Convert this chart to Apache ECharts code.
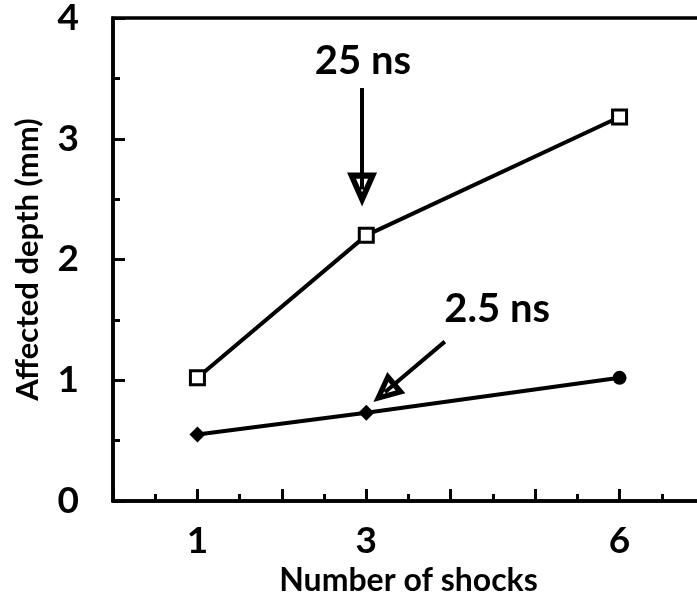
<!DOCTYPE html>
<html>
<head>
<meta charset="utf-8">
<script src="https://cdn.jsdelivr.net/npm/echarts@6/dist/echarts.min.js"></script>
<style>
  html, body { margin: 0; padding: 0; background: #fff; }
  #chart { width: 697px; height: 600px; }
</style>
</head>
<body>
<div id="chart"></div>
<script>
// Number of shocks on the x axis
const shocks = [1, 3, 6];
// Affected depth (mm) for each pulse duration
const depth25ns = [1.02, 2.2, 3.18];
const depth2_5ns = [0.55, 0.73, 1.02];
// Tick labels shown on the axes
const xTickLabels = [1, 3, 6];
const yTickLabels = [0, 1, 2, 3, 4];

const FONT = 'Lato';
// Open (outlined) arrow head, pointing up; ECharts rotates it along the line
const OPEN_HEAD = 'path://M10,0L20,24L0,24Z M10,10L6,19.5L14,19.5Z';

const chart = echarts.init(document.getElementById('chart'));
const pairs = (xs, ys) => xs.map((x, i) => [x, ys[i]]);

chart.setOption({
  animation: false,
  backgroundColor: '#fff',
  grid: {
    left: 113, top: 18, width: 591, height: 483,
    outerBoundsMode: 'none', containLabel: false,
    show: true, borderColor: '#000', borderWidth: 3.5
  },
  xAxis: {
    type: 'value', min: 0, max: 7, interval: 1,
    name: 'Number of shocks', nameLocation: 'middle', nameGap: 62,
    nameTextStyle: { fontFamily: FONT, fontWeight: 'bold', fontSize: 32, color: '#000' },
    axisLine: { lineStyle: { color: '#000', width: 3.5 } },
    axisTick: { inside: true, length: 12, lineStyle: { color: '#000', width: 3 } },
    minorTick: { show: true, splitNumber: 2, length: 7, lineStyle: { color: '#000', width: 3 } },
    splitLine: { show: false },
    axisLabel: {
      margin: 22, fontFamily: FONT, fontWeight: 'bold', fontSize: 37, color: '#000',
      formatter: v => (xTickLabels.includes(v) ? String(v) : '')
    }
  },
  yAxis: {
    type: 'value', min: 0, max: 4, interval: 1,
    name: 'Affected depth (mm)', nameLocation: 'middle', nameGap: 70, nameRotate: 90,
    nameTextStyle: { fontFamily: FONT, fontWeight: 'bold', fontSize: 31, color: '#000' },
    axisLine: { lineStyle: { color: '#000', width: 3.5 } },
    axisTick: { inside: true, length: 12, lineStyle: { color: '#000', width: 3 } },
    minorTick: { show: true, splitNumber: 2, length: 7, lineStyle: { color: '#000', width: 3 } },
    splitLine: { show: false },
    axisLabel: {
      margin: 34, fontFamily: FONT, fontWeight: 'bold', fontSize: 37, color: '#000',
      formatter: v => (yTickLabels.includes(v) ? String(v) : '')
    }
  },
  series: [
    {
      name: '25 ns', type: 'line',
      data: pairs(shocks, depth25ns),
      symbol: 'rect', symbolSize: 14,
      lineStyle: { color: '#000', width: 4 },
      itemStyle: { color: '#fff', borderColor: '#000', borderWidth: 3 },
      markLine: {
        silent: true, symbol: ['none', OPEN_HEAD], symbolSize: [30, 34],
        lineStyle: { color: '#000', width: 4, type: 'solid' },
        label: { show: false },
        data: [[{ coord: [2.95, 3.42] }, { coord: [2.95, 2.58] }]]
      },
      markPoint: {
        silent: true, symbol: 'circle', symbolSize: 0,
        label: {
          show: true, formatter: '25 ns', fontFamily: FONT, fontWeight: 'bold',
          fontSize: 40, color: '#000'
        },
        data: [{ coord: [2.96, 3.64] }]
      }
    },
    {
      name: '2.5 ns', type: 'line',
      data: pairs(shocks, depth2_5ns).map((p, i) => (i === 2 ? { value: p, symbol: 'circle', symbolSize: 14 } : p)),
      symbol: 'diamond', symbolSize: 16,
      lineStyle: { color: '#000', width: 4 },
      itemStyle: { color: '#000' },
      markLine: {
        silent: true, symbol: ['none', OPEN_HEAD], symbolSize: [28, 30],
        lineStyle: { color: '#000', width: 4, type: 'solid' },
        label: { show: false },
        data: [[{ coord: [3.93, 1.32] }, { coord: [3.22, 0.9] }]]
      },
      markPoint: {
        silent: true, symbol: 'circle', symbolSize: 0,
        label: {
          show: true, formatter: '2.5 ns', fontFamily: FONT, fontWeight: 'bold',
          fontSize: 40, color: '#000'
        },
        data: [{ coord: [4.55, 1.59] }]
      }
    }
  ]
});
</script>
</body>
</html>
